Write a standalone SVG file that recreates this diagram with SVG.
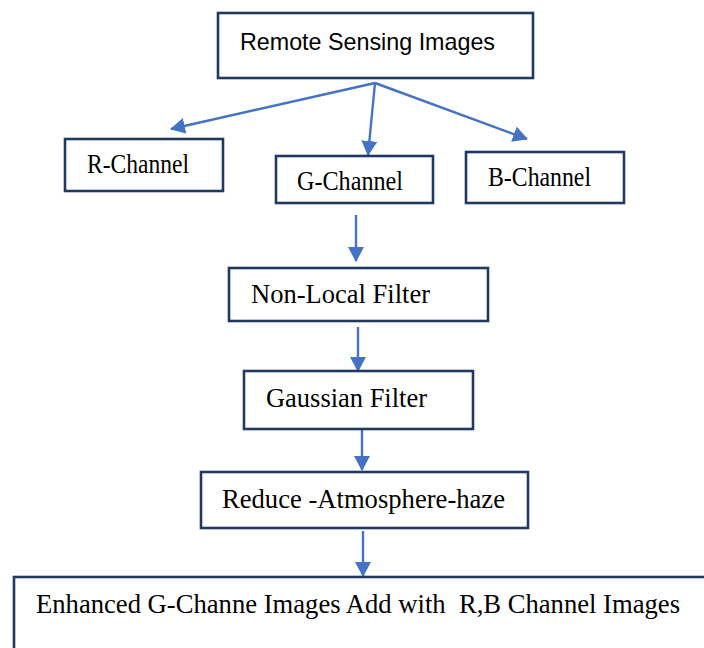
<svg xmlns="http://www.w3.org/2000/svg" width="704" height="648" viewBox="0 0 704 648">
  <style>
    .box { fill: #ffffff; stroke: #1f3864; stroke-width: 2.6; }
    .lbl { font-family: "Liberation Serif", "Times New Roman", serif; font-size: 27px; fill: #000000; }
    .sans { font-family: "Liberation Sans", Arial, sans-serif; font-size: 24px; fill: #000000; }
    .arrow { stroke: #4472c4; stroke-width: 2.4; fill: none; marker-end: url(#head); }
  </style>
  <defs>
    <marker id="head" markerUnits="userSpaceOnUse" markerWidth="18" markerHeight="18" refX="14" refY="8" orient="auto">
      <path d="M0,0 L15,8 L0,16 z" fill="#4472c4"/>
    </marker>
  </defs>
  <rect width="704" height="648" fill="#ffffff"/>

  <g id="connectors">
    <line class="arrow" x1="375" y1="83" x2="171" y2="129"/>
    <line class="arrow" x1="375" y1="83" x2="368" y2="155"/>
    <line class="arrow" x1="375" y1="83" x2="527" y2="139"/>
    <line class="arrow" x1="356" y1="215" x2="356" y2="261"/>
    <line class="arrow" x1="358" y1="327" x2="358" y2="371"/>
    <line class="arrow" x1="362" y1="423" x2="362" y2="470"/>
    <line class="arrow" x1="363" y1="531" x2="363" y2="576"/>
  </g>

  <g id="remote-sensing">
    <rect class="box" x="218" y="13" width="315" height="65"/>
    <text class="sans" x="240" y="50" textLength="255" lengthAdjust="spacingAndGlyphs">Remote Sensing Images</text>
  </g>

  <g id="r-channel">
    <rect class="box" x="65" y="139" width="158" height="52"/>
    <text class="lbl" x="87" y="173" font-size="26" textLength="102" lengthAdjust="spacingAndGlyphs">R-Channel</text>
  </g>

  <g id="g-channel">
    <rect class="box" x="276" y="156" width="157" height="47"/>
    <text class="lbl" x="297" y="190" font-size="26" textLength="106" lengthAdjust="spacingAndGlyphs">G-Channel</text>
  </g>

  <g id="b-channel">
    <rect class="box" x="466" y="152" width="158" height="51"/>
    <text class="lbl" x="488" y="186" font-size="26" textLength="103" lengthAdjust="spacingAndGlyphs">B-Channel</text>
  </g>

  <g id="non-local-filter">
    <rect class="box" x="229" y="268" width="259" height="53"/>
    <text class="lbl" x="251" y="303" textLength="179" lengthAdjust="spacingAndGlyphs">Non-Local Filter</text>
  </g>

  <g id="gaussian-filter">
    <rect class="box" x="244" y="371" width="229" height="58"/>
    <text class="lbl" x="266" y="407" textLength="161" lengthAdjust="spacingAndGlyphs">Gaussian Filter</text>
  </g>

  <g id="reduce-haze">
    <rect class="box" x="201" y="472" width="327" height="56"/>
    <text class="lbl" x="222" y="508" textLength="283" lengthAdjust="spacingAndGlyphs">Reduce -Atmosphere-haze</text>
  </g>

  <g id="enhanced-output">
    <rect class="box" x="14" y="577" width="700" height="90"/>
    <text class="lbl" x="36" y="613" xml:space="preserve" textLength="644" lengthAdjust="spacingAndGlyphs">Enhanced G-Channe Images Add with  R,B Channel Images</text>
  </g>
</svg>
